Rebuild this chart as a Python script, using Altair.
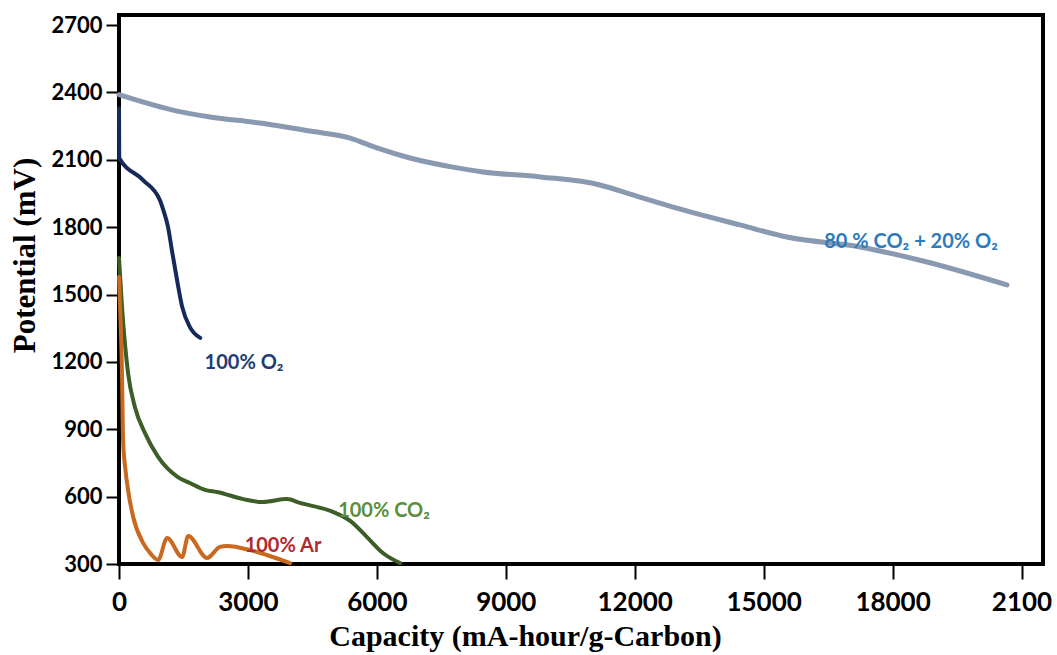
import altair as alt
import pandas as pd

# ---- data ----
mix_x = [0, 1350, 2120, 3280, 4450, 5380, 6000, 6770, 7870, 8470, 9800, 11190, 11360, 12120, 13290, 14450, 15540, 17240, 18800, 20660]
mix_y = [2390, 2317, 2291, 2264, 2228, 2197, 2153, 2108, 2064, 2046, 2024, 1988, 1979, 1934, 1868, 1810, 1756, 1712, 1645, 1543]

o2_x = [0, 5, 560, 950, 1030, 1140, 1230, 1350, 1470, 1650, 1890]
o2_y = [2330, 2108, 2010, 1921, 1877, 1801, 1698, 1565, 1445, 1355, 1307]

co2_x = [0, 70, 210, 370, 605, 910, 1370, 1650, 2000, 2280, 2890, 3350, 3910, 4210, 4980, 5380, 5770, 6140, 6540]
co2_y = [1663, 1445, 1151, 999, 883, 777, 687, 661, 630, 621, 589, 576, 589, 572, 532, 492, 420, 349, 304]

ar_x = [0, 25, 70, 95, 150, 210, 330, 560, 740, 910, 1120, 1470, 1610, 2050, 2350, 2510, 3050, 3440, 3980]
ar_y = [1578, 1445, 1151, 852, 720, 630, 509, 394, 345, 318, 416, 331, 425, 327, 376, 380, 362, 340, 304]

series_names = ["80% CO2 + 20% O2", "100% O2", "100% CO2", "100% Ar"]
line_colors = ["#8899b0", "#15295a", "#3d5e27", "#c8691f"]
line_widths = [5, 4, 4, 4]
line_interp = ["monotone", "monotone", "monotone", "monotone"]

label_text = ["80 % CO₂ + 20% O₂", "100% O₂", "100% CO₂", "100% Ar"]
label_x = [18430, 2909, 6167, 3816]
label_y = [1734, 1195, 536, 380]
label_colors = ["#2d7bbd", "#1f3c74", "#5b8f3c", "#b02a30"]

y_ticks = [300, 600, 900, 1200, 1500, 1800, 2100, 2400, 2700]
x_ticks = [0, 3000, 6000, 9000, 12000, 15000, 18000, 21000]

xs = alt.Scale(domain=[0, 21500], nice=False, zero=False)
ys = alt.Scale(domain=[300, 2745], nice=False, zero=False)

x_axis = alt.Axis(
    values=x_ticks, grid=False, domain=False, ticks=True, tickSize=15, tickWidth=2,
    tickColor="black", labelFont="Lato", labelFontWeight="bold", labelFontSize=26,
    labelColor="black", labelPadding=10, labelFlush=False, labelOverlap=False,
    labelExpr="datum.value == 21000 ? '2100' : datum.value",
    title="Capacity (mA-hour/g-Carbon)", titleFont="Liberation Serif",
    titleFontWeight="bold", titleFontSize=30, titleColor="black",
    titleX=406, titleY=72, titleBaseline="middle", titleAlign="center",
)
y_axis = alt.Axis(
    values=y_ticks, grid=False, domain=False, ticks=True, tickSize=13, tickWidth=2,
    tickColor="black", labelFont="Lato", labelFontWeight="bold", labelFontSize=22,
    labelColor="black", labelPadding=4, labelFlush=False, labelOverlap=False,
    labelExpr="datum.value",
    title="Potential (mV)", titleFont="Liberation Serif",
    titleFontWeight="bold", titleFontSize=31, titleColor="black",
    titleX=-94, titleY=240, titleAngle=-90, titleBaseline="middle", titleAlign="center",
)

layers = []
for i, (name, xv, yv) in enumerate(zip(series_names, [mix_x, o2_x, co2_x, ar_x], [mix_y, o2_y, co2_y, ar_y])):
    d = pd.DataFrame({"x": xv, "y": yv, "order": list(range(len(xv)))})
    layers.append(
        alt.Chart(d).mark_line(strokeWidth=line_widths[i], interpolate=line_interp[i],
                               color=line_colors[i], strokeJoin="round", strokeCap="round").encode(
            x=alt.X("x:Q", scale=xs, axis=x_axis),
            y=alt.Y("y:Q", scale=ys, axis=y_axis),
            order="order:Q",
        )
    )

lab = pd.DataFrame({"text": label_text, "x": label_x, "y": label_y, "c": label_colors})
texts = alt.Chart(lab).mark_text(font="Lato", fontWeight="bold", fontSize=20, align="center", baseline="middle").encode(
    x=alt.X("x:Q", scale=xs, axis=x_axis),
    y=alt.Y("y:Q", scale=ys, axis=y_axis),
    text="text:N",
    color=alt.Color("c:N", scale=None),
)

chart = alt.layer(*layers, texts).properties(
    width=924, height=549,
    autosize=alt.AutoSizeParams(type="none"),
    padding={"left": 119, "top": 15, "right": 14, "bottom": 91},
    background="white",
).configure_view(stroke="black", strokeWidth=4)

chart.save("out.html", embed_options={"renderer": "svg", "actions": False})
